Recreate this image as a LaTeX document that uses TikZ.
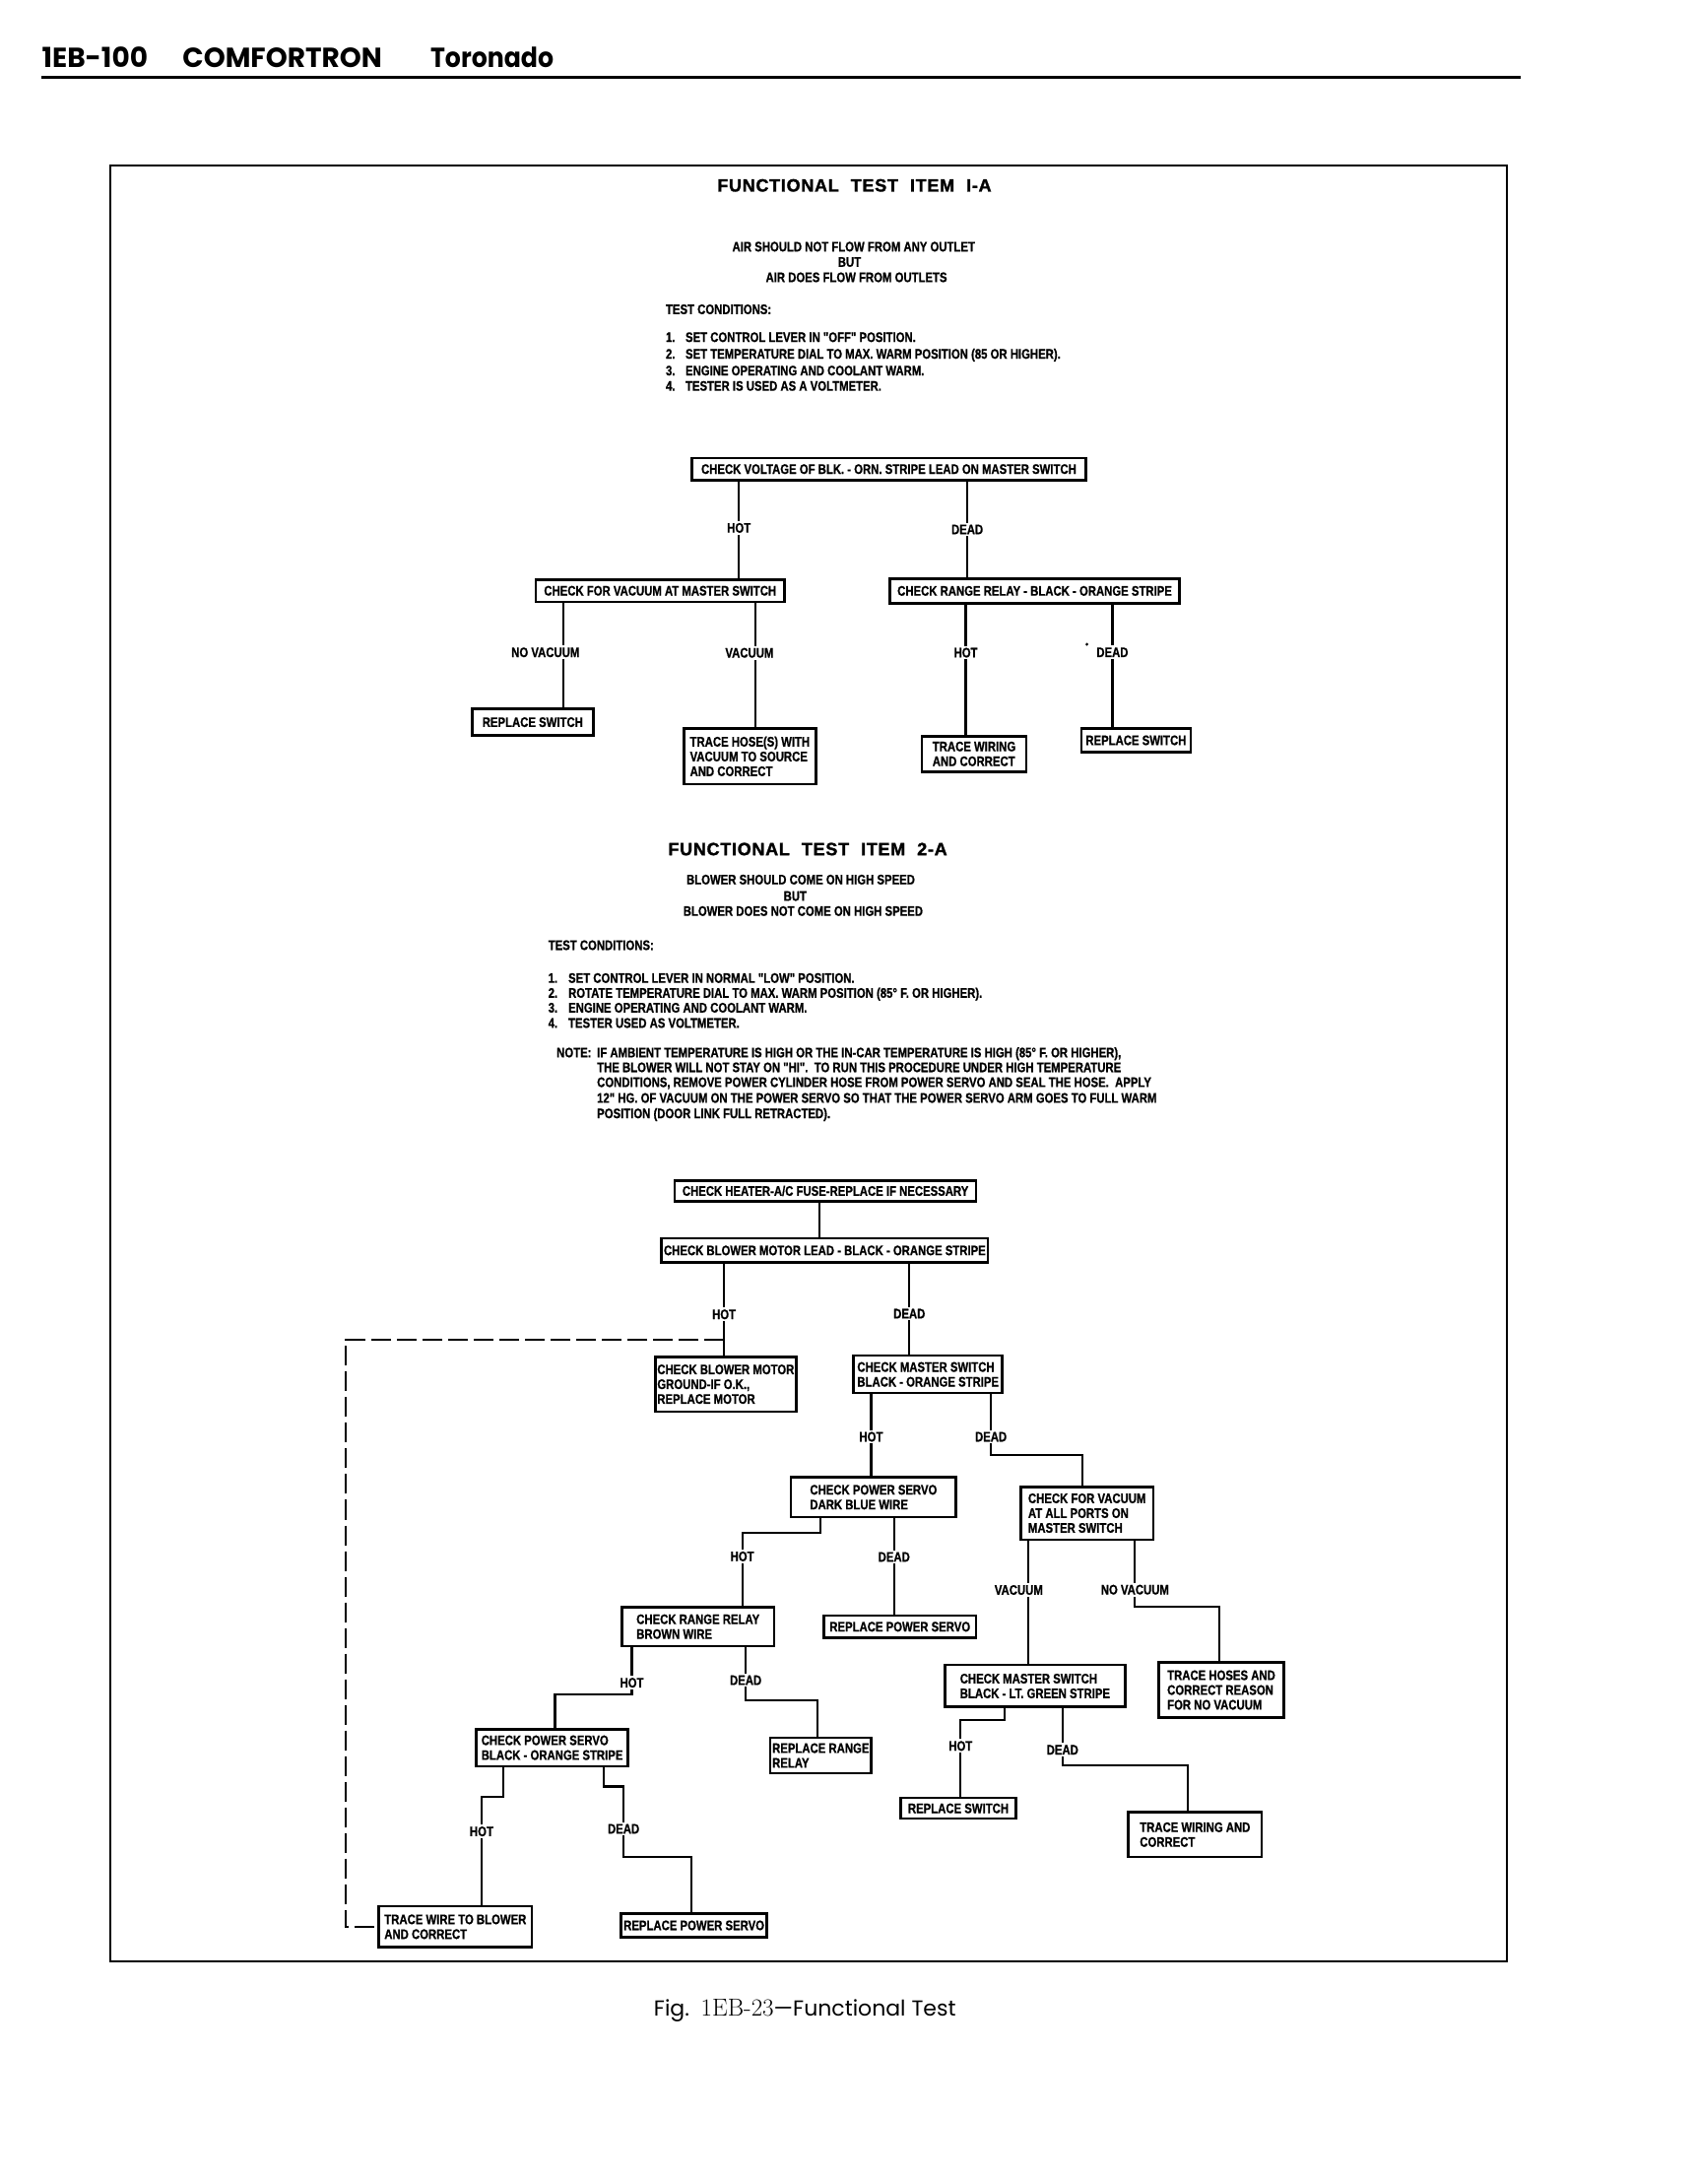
\documentclass[tikz,border=0pt]{standalone}
\usepackage{fontspec}
\newfontfamily\condfont{Liberation Sans}[FakeStretch=0.81,FakeBold=0.8]
\newfontfamily\titlefont{Liberation Sans}[LetterSpace=4,FakeBold=1.5]
\newfontfamily\headfont{Poppins}
\newcommand\bfnt{\condfont\bfseries\fontsize{14}{15}\selectfont}
\newcommand\cndfnt{\condfont\bfseries\fontsize{14}{15}\selectfont}
\newcommand\tfnt{\titlefont\bfseries\fontsize{18}{20}\selectfont}
\newcommand\hfnt{\headfont\bfseries\fontsize{28}{30}\selectfont}
\newcommand\cfnt{\headfont\fontsize{22}{25}\selectfont}
\usetikzlibrary{calc}
\begin{document}
\begin{tikzpicture}[x={(1.4138pt,0)}, y={(0,-1.4138pt)},
  box/.style={draw, line width=2.6pt, inner xsep=2pt, inner ysep=1pt, align=left, font=\bfnt},
  lab/.style={fill=white, inner xsep=1pt, inner ysep=2pt, font=\bfnt},
  conn/.style={line width=2.2pt},
  txt/.style={inner sep=0pt, font=\cndfnt, anchor=base west},
  ctr/.style={inner sep=0pt, font=\cndfnt, anchor=base},
  dashline/.style={line width=2.2pt, dash pattern=on 20pt off 6pt}]
\useasboundingbox (0,0) rectangle (1218,1568);
\fill[white] (0,0) rectangle (1218,1568);

% header
\node[anchor=base west, inner sep=0pt, font=\hfnt] (h1) at (30,48.5) {1EB-100};
\node[anchor=base west, inner sep=0pt, font=\hfnt] (h2) at (131,48.5) {COMFORTRON};
\node[anchor=base west, inner sep=0pt, font=\hfnt] (h3) at (309,48.5) {\scalebox{0.9}[1]{Toronado}};
\draw[line width=3.5pt] (30,55.5) -- (1092,55.5);

% frame
\draw[line width=1.8pt] (79,119) rectangle (1082,1408);

% ---------- Test item 1-A ----------
\node[anchor=base, inner sep=0pt, font=\tfnt] (t1) at (613.5,137.5) {FUNCTIONAL\hspace{12pt}TEST\hspace{12pt}ITEM\hspace{12pt}I-A};
\node[ctr] (s1a) at (613,180.5) {AIR SHOULD NOT FLOW FROM ANY OUTLET};
\node[ctr] (s1b) at (610,191.5) {BUT};
\node[ctr] (s1c) at (615,202.5) {AIR DOES FLOW FROM OUTLETS};
\node[txt] (tc1) at (478,225.5) {TEST CONDITIONS:};
\node[txt] (c11) at (478,245.5) {\makebox[20pt][l]{1.}SET CONTROL LEVER IN "OFF" POSITION.};
\node[txt] (c12) at (478,257.5) {\makebox[20pt][l]{2.}SET TEMPERATURE DIAL TO MAX. WARM POSITION (85 OR HIGHER).};
\node[txt] (c13) at (478,269.5) {\makebox[20pt][l]{3.}ENGINE OPERATING AND COOLANT WARM.};
\node[txt] (c14) at (478,280.5) {\makebox[20pt][l]{4.}TESTER IS USED AS A VOLTMETER.};

\node[box, minimum width=400pt, minimum height=22.3pt] (A1) at (638.25,336.8) {CHECK VOLTAGE OF BLK. - ORN. STRIPE LEAD ON MASTER SWITCH};
\node[box, minimum width=252.6pt, minimum height=22.8pt] (B1) at (474.05,424.15) {CHECK FOR VACUUM AT MASTER SWITCH};
\node[box, minimum width=294pt, minimum height=24.7pt] (C1) at (743,424.25) {CHECK RANGE RELAY - BLACK - ORANGE STRIPE};
\node[box, minimum width=123pt, minimum height=26.9pt] (D1) at (382.5,518.5) {REPLACE SWITCH};
\node[box, minimum width=134.3pt, minimum height=56.6pt] (E1) at (538.5,543) {TRACE HOSE(S) WITH\\VACUUM TO SOURCE\\AND CORRECT};
\node[box, minimum width=106pt, minimum height=36pt] (F1) at (699.5,541.25) {TRACE WIRING\\AND CORRECT};
\node[box, minimum width=111pt, minimum height=24pt] (G1) at (815.75,531.5) {REPLACE SWITCH};

\draw[conn] (A1.south -| 530.6,0) -- node[lab,pos=0.48]{HOT} (B1.north -| 530.6,0);
\draw[conn] (A1.south -| 694.6,0) -- node[lab,pos=0.5]{DEAD} (C1.north -| 694.6,0);
\draw[conn] (B1.south -| 404.4,0) -- node[lab,pos=0.47,xshift=-18pt]{NO VACUUM} (D1.north -| 404.4,0);
\draw[conn] (B1.south -| 542.4,0) -- node[lab,pos=0.4,xshift=-6pt]{VACUUM} (E1.north -| 542.4,0);
\draw[conn] (C1.south -| 693.5,0) -- node[lab,pos=0.37]{HOT} (F1.north -| 693.5,0);
\draw[conn] (C1.south -| 798.8,0) -- node[lab,pos=0.39]{DEAD} (G1.north -| 798.8,0);
\fill (780.5,462.6) circle (1.6pt);

% ---------- Test item 2-A ----------
\node[anchor=base, inner sep=0pt, font=\tfnt] (t2) at (580,614) {FUNCTIONAL\hspace{12pt}TEST\hspace{12pt}ITEM\hspace{12pt}2-A};
\node[ctr] (s2a) at (575,634.9) {BLOWER SHOULD COME ON HIGH SPEED};
\node[ctr] (s2b) at (571,646.7) {BUT};
\node[ctr] (s2c) at (576.7,657.5) {BLOWER DOES NOT COME ON HIGH SPEED};
\node[txt] (tc2) at (393.6,682) {TEST CONDITIONS:};
\node[txt] (c21) at (393.6,705.6) {\makebox[20.4pt][l]{1.}SET CONTROL LEVER IN NORMAL "LOW" POSITION.};
\node[txt] (c22) at (393.6,716.3) {\makebox[20.4pt][l]{2.}ROTATE TEMPERATURE DIAL TO MAX. WARM POSITION (85° F. OR HIGHER).};
\node[txt] (c23) at (393.6,726.9) {\makebox[20.4pt][l]{3.}ENGINE OPERATING AND COOLANT WARM.};
\node[txt] (c24) at (393.6,737.9) {\makebox[20.4pt][l]{4.}TESTER USED AS VOLTMETER.};
\node[txt] (nt) at (399.6,759.1) {NOTE:};
\node[txt] (n1) at (428.6,759.1) {IF AMBIENT TEMPERATURE IS HIGH OR THE IN-CAR TEMPERATURE IS HIGH (85° F. OR HIGHER),};
\node[txt] (n2) at (428.6,769.7) {THE BLOWER WILL NOT STAY ON "HI".\ \ TO RUN THIS PROCEDURE UNDER HIGH TEMPERATURE};
\node[txt] (n3) at (428.6,780.4) {CONDITIONS, REMOVE POWER CYLINDER HOSE FROM POWER SERVO AND SEAL THE HOSE.\ \ APPLY};
\node[txt] (n4) at (428.6,791.7) {12" HG. OF VACUUM ON THE POWER SERVO SO THAT THE POWER SERVO ARM GOES TO FULL WARM};
\node[txt] (n5) at (428.6,802.8) {POSITION (DOOR LINK FULL RETRACTED).};

\node[box, minimum width=306pt, minimum height=21pt] (H) at (592.75,855) {CHECK HEATER-A/C FUSE-REPLACE IF NECESSARY};
\node[box, minimum width=331.5pt, minimum height=24.7pt] (I) at (592.25,897.75) {CHECK BLOWER MOTOR LEAD - BLACK - ORANGE STRIPE};
\node[box, minimum width=142.4pt, minimum height=55.4pt] (J) at (521.15,993.8) {CHECK BLOWER MOTOR\\GROUND-IF O.K.,\\REPLACE MOTOR};
\node[box, minimum width=151pt, minimum height=38pt] (K) at (666.4,986.75) {CHECK MASTER SWITCH\\BLACK - ORANGE STRIPE};
\node[box, minimum width=167.5pt, minimum height=40.7pt] (L) at (627.25,1074.9) {CHECK POWER SERVO\\DARK BLUE WIRE};
\node[box, minimum width=134.6pt, minimum height=53.6pt] (M) at (780.6,1086.35) {CHECK FOR VACUUM\\AT ALL PORTS ON\\MASTER SWITCH};
\node[box, minimum width=154.8pt, minimum height=22.3pt] (N) at (646.25,1167.9) {REPLACE POWER SERVO};
\node[box, minimum width=154.8pt, minimum height=39.2pt] (O) at (501.25,1167.85) {CHECK RANGE RELAY\\BROWN WIRE};
\node[box, minimum width=183pt, minimum height=42.6pt] (P) at (743.25,1210.45) {CHECK MASTER SWITCH\\BLACK - LT. GREEN STRIPE};
\node[box, minimum width=127.2pt, minimum height=55.6pt] (Q) at (877,1213.35) {TRACE HOSES AND\\CORRECT REASON\\FOR NO VACUUM};
\node[box, minimum width=154pt, minimum height=37.5pt] (R) at (396.5,1254.75) {CHECK POWER SERVO\\BLACK - ORANGE STRIPE};
\node[box, minimum width=102.8pt, minimum height=35.8pt] (S) at (589.35,1260.35) {REPLACE RANGE\\RELAY};
\node[box, minimum width=117pt, minimum height=21pt] (T) at (688.15,1298.3) {REPLACE SWITCH};
\node[box, minimum width=135.3pt, minimum height=45.7pt] (U) at (858.15,1317.15) {TRACE WIRING AND\\CORRECT};
\node[box, minimum width=155.5pt, minimum height=41.6pt] (V) at (327,1383.3) {TRACE WIRE TO BLOWER\\AND CORRECT};
\node[box, minimum width=148pt, minimum height=23.5pt] (W) at (498.35,1382.3) {REPLACE POWER SERVO};

\draw[conn] (H.south -| 588.2,0) -- (I.north -| 588.2,0);
\draw[conn] (I.south -| 519.9,0) -- node[lab,pos=0.55]{HOT} (J.north -| 519.9,0);
\coordinate (dstart) at (519.9,962);
\draw[dashline] (dstart) -| (V.west -| 248.5,0) -- (V.west);
\draw[conn] (I.south -| 653,0) -- node[lab,pos=0.55]{DEAD} (K.north -| 653,0);
\draw[conn] (K.south -| 625.5,0) -- node[lab,pos=0.52]{HOT} (L.north -| 625.5,0);
\draw[conn] (K.south -| 711.6,0) -- node[lab,pos=0.7]{DEAD} (711.6,1044.5) -| (M.north -| 777.3,0);
\draw[conn] (L.south -| 589,0) -- (589,1100.6) -| node[lab,pos=0.66]{HOT} (O.north -| 533,0);
\draw[conn] (L.south -| 642,0) -- node[lab,pos=0.4]{DEAD} (N.north -| 642,0);
\draw[conn] (M.south -| 738.6,0) -- node[lab,pos=0.4,xshift=-10pt]{VACUUM} (P.north -| 738.6,0);
\draw[conn] (M.south -| 815,0) -- node[lab,pos=0.74]{NO VACUUM} (815,1153.6) -| (Q.north -| 875.6,0);
\draw[conn] (O.south -| 453.7,0) -- node[lab,pos=0.75]{HOT} (453.7,1216.6) -| (R.north -| 398.6,0);
\draw[conn] (O.south -| 535.5,0) -- node[lab,pos=0.62]{DEAD} (535.5,1220.8) -| (S.north -| 587,0);
\draw[conn] (P.south -| 721.3,0) -- (721.3,1234.7) -| node[lab,pos=0.67]{HOT} (T.north -| 689.8,0);
\draw[conn] (P.south -| 763,0) -- node[lab,pos=0.73]{DEAD} (763,1267.3) -| (U.north -| 853.2,0);
\draw[conn] (R.south -| 361.2,0) -- (361.2,1290) -| node[lab,pos=0.66]{HOT} (V.north -| 345.8,0);
\draw[conn] (R.south -| 433.4,0) |- (447.8,1282.6) -- node[lab,pos=0.6]{DEAD} (447.8,1333.2) -| (W.north -| 496.5,0);

% caption
\node[anchor=base, inner sep=0pt] (cap) at (578,1447.5) {\cfnt Fig.\ \ {\rmfamily\fontsize{25}{28}\selectfont 1EB-23}—Functional Test};
\end{tikzpicture}
\end{document}
